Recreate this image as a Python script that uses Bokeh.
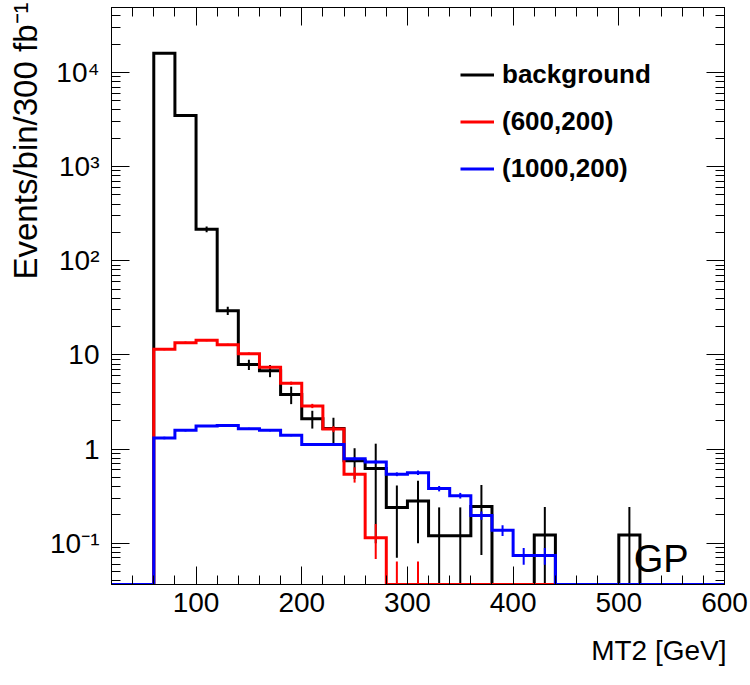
import numpy as np
from bokeh.plotting import figure
from bokeh.models import (Range1d, LinearAxis, LogAxis, FixedTicker, SingleIntervalTicker,
                          CustomJSTickFormatter, Label, Legend, LegendItem, Title)
from bokeh.embed import file_html
from bokeh.resources import INLINE

# MT2 histogram: 20 GeV bins from 20 to 600 GeV (lower bin edges)
bin_lo = np.arange(20, 600, 20)
bin_width = 20

background = [0, 0, 16000, 3500, 216, 29.5, 7.9, 6.8, 3.8, 2.1, 1.65, 0.75, 0.62, 0.24,
              0.28, 0.12, 0.12, 0.245, 0, 0, 0.122, 0, 0, 0, 0.122, 0, 0, 0, 0]
background_err = [0, 0, 127, 59, 15, 3.0, 1.0, 1.0, 0.8, 0.45, 0.5, 0.27, 0.52, 0.17,
                  0.18, 0.12, 0.12, 0.17, 0, 0, 0.12, 0, 0, 0, 0.12, 0, 0, 0, 0]

sig_600_200 = [0, 0, 11.5, 13.5, 14.3, 12.8, 10.3, 7.4, 5.0, 2.87, 1.63, 0.54, 0.114, 0.02,
               0.02, 0, 0, 0, 0, 0, 0, 0, 0, 0, 0, 0, 0, 0, 0]
sig_600_200_err = [0, 0, 0.3, 0.35, 0.35, 0.35, 0.3, 0.25, 0.2, 0.15, 0.12, 0.1, 0.046, 0.044,
                   0.044, 0, 0, 0, 0, 0, 0, 0, 0, 0, 0, 0, 0, 0, 0]

sig_1000_200 = [0, 0, 1.31, 1.58, 1.76, 1.78, 1.64, 1.58, 1.40, 1.12, 1.12, 0.79, 0.73, 0.54,
                0.56, 0.38, 0.32, 0.197, 0.137, 0.074, 0.074, 0, 0, 0, 0, 0, 0, 0, 0]
sig_1000_200_err = [0, 0, 0.04, 0.04, 0.04, 0.04, 0.04, 0.04, 0.035, 0.03, 0.03, 0.03, 0.03, 0.025,
                    0.03, 0.025, 0.022, 0.02, 0.018, 0.015, 0.015, 0, 0, 0, 0, 0, 0, 0, 0]

series = [("background", background, background_err, "#000000"),
          ("(600,200)", sig_600_200, sig_600_200_err, "#ff0000"),
          ("(1000,200)", sig_1000_200, sig_1000_200_err, "#0000ff")]

X_MIN, X_MAX = 20, 600
Y_MIN, Y_MAX = 0.0364, 49000
FONT = "Liberation Sans"

p = figure(width=750, height=685, output_backend="svg", toolbar_location=None,
           x_range=Range1d(X_MIN, X_MAX), y_range=Range1d(Y_MIN, Y_MAX),
           y_axis_type="log", min_border_left=110, min_border_right=26,
           min_border_top=7, min_border_bottom=101)
p.background_fill_color = "white"
p.border_fill_color = "white"
p.outline_line_color = "black"
p.outline_line_width = 1
p.xgrid.visible = False
p.ygrid.visible = False

# log ticks: decades with 2..9 minors
decades = [10.0 ** e for e in range(-2, 6)]
y_major = [10.0 ** e for e in range(-1, 5)]
y_minor = [m * d for d in decades for m in range(1, 10)]
x_ticker = SingleIntervalTicker(interval=100, num_minor_ticks=5)
y_ticker = FixedTicker(ticks=y_major, minor_ticks=y_minor)

pow_fmt = CustomJSTickFormatter(code="""
const e = Math.round(Math.log10(tick));
if (e == 0) return '1';
if (e == 1) return '10';
const sup = {'-': '\u207b', '0': '\u2070', '1': '\u00b9', '2': '\u00b2', '3': '\u00b3',
             '4': '\u2074', '5': '\u2075', '6': '\u2076', '7': '\u2077', '8': '\u2078', '9': '\u2079'};
return '10' + String(e).split('').map(c => sup[c]).join('');
""")
blank_fmt = CustomJSTickFormatter(code="return '';")


def style_axis(ax, show_labels):
    ax.major_tick_in = 18
    ax.major_tick_out = 0
    ax.minor_tick_in = 9
    ax.minor_tick_out = 0
    ax.axis_line_color = "black"
    ax.major_tick_line_color = "black"
    ax.minor_tick_line_color = "black"
    ax.major_label_text_font = FONT
    ax.major_label_text_color = "black"
    ax.major_label_text_font_size = "28px"
    if not show_labels:
        ax.formatter = blank_fmt
        ax.major_label_standoff = 0


xa = p.xaxis[0]
xa.ticker = x_ticker
style_axis(xa, True)
xa.major_label_standoff = 8

ya = p.yaxis[0]
ya.ticker = y_ticker
ya.formatter = pow_fmt
style_axis(ya, True)
ya.major_label_standoff = 12

top_axis = LinearAxis(ticker=x_ticker)
style_axis(top_axis, False)
p.add_layout(top_axis, "above")

right_axis = LogAxis(ticker=y_ticker)
style_axis(right_axis, False)
p.add_layout(right_axis, "right")

# axis titles, aligned to the far end of each axis
p.add_layout(Title(text="MT2 [GeV]", align="right", text_font=FONT, text_font_size="28px",
                   text_font_style="normal", text_color="black", standoff=36, offset=-2),
             "below")
p.add_layout(Title(text="Events/bin/300 fb\u207b\u00b9", align="right", text_font=FONT,
                   text_font_size="33px", text_font_style="normal", text_color="black",
                   standoff=8, offset=-5),
             "left")

# histograms drawn as steps, empty bins sit on the frame floor
centers = bin_lo + bin_width / 2
legend_items = []
for name, vals, errs, color in series:
    v = np.asarray(vals, dtype=float)
    e = np.asarray(errs, dtype=float)
    shown = np.where(v > 0, np.maximum(v, Y_MIN), Y_MIN)
    xs = np.append(bin_lo, X_MAX)
    ys = np.append(shown, shown[-1])
    r = p.step(x=xs, y=ys, mode="after", line_color=color, line_width=3, line_join="miter")
    legend_items.append(LegendItem(label=name, renderers=[r]))

    has = (v > 0) & (e > 0)
    lo = np.maximum(v[has] - e[has], Y_MIN * 0.5)
    hi = v[has] + e[has]
    p.segment(x0=centers[has], y0=lo, x1=centers[has], y1=hi,
              line_color=color, line_width=2)

legend = Legend(items=legend_items, location=(349, 392), orientation="vertical",
                padding=0, spacing=0, margin=0, glyph_width=34, glyph_height=47,
                label_height=47, label_standoff=8, border_line_alpha=0,
                background_fill_alpha=0, label_text_font=FONT,
                label_text_font_size="26px", label_text_font_style="bold",
                label_text_color="black")
p.add_layout(legend, "center")

p.add_layout(Label(x=540, y=0.068, text="GP", text_font=FONT, text_font_size="38px",
                   text_align="center", text_baseline="middle", text_color="black"))

open("out.html", "w").write(file_html(p, INLINE))
